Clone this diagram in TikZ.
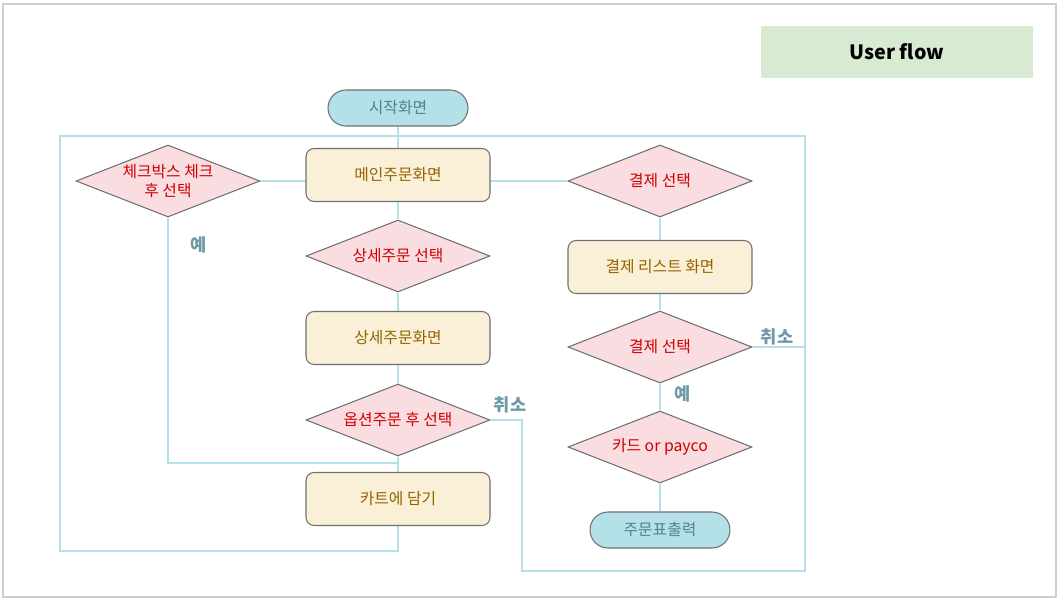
\documentclass[tikz,border=0pt]{standalone}
\usepackage{fontspec}
\setmainfont{Noto Sans CJK KR}
\usepackage{xcolor}
\usepackage{tikz}
\usetikzlibrary{shapes.geometric, backgrounds}
\definecolor{flowcyan}{HTML}{B6E0E7}
\definecolor{edgegray}{HTML}{707070}
\definecolor{framegray}{HTML}{CFCFCF}
\definecolor{screencream}{HTML}{FAF0D7}
\definecolor{screenbrown}{HTML}{946300}
\definecolor{choicepink}{HTML}{FADDE1}
\definecolor{choicered}{HTML}{D00000}
\definecolor{termblue}{HTML}{B4E1E8}
\definecolor{termteal}{HTML}{55808C}
\definecolor{answerteal}{HTML}{6D9AA6}
\definecolor{titlegreen}{HTML}{D9EAD3}

\begin{document}
\begin{tikzpicture}[x=0.02cm, y=-0.02cm, font=\fontsize{9}{10.5}\selectfont,
    screen/.style={rectangle, rounded corners=0.16cm, minimum width=3.68cm, minimum height=1.06cm,
      draw=edgegray, fill=screencream, text=screenbrown, line width=0.6pt},
    choice/.style={diamond, shape aspect=2.5, inner sep=0.5pt, minimum width=3.68cm, minimum height=1.44cm,
      align=center, draw=edgegray, fill=choicepink, text=choicered, line width=0.6pt},
    terminal/.style={rectangle, rounded corners=0.36cm, minimum width=2.8cm, minimum height=0.72cm,
      draw=edgegray, fill=termblue, text=termteal, line width=0.6pt},
    flow/.style={draw=flowcyan, line width=1.4pt},
    answer/.style={text=answerteal, font=\fontsize{10}{12}\selectfont\bfseries}]

    \useasboundingbox (0,0) rectangle (1059,599);
    \draw[framegray, line width=0.6pt] (3,4) rectangle (1056,597);

    \node (title) [fill=titlegreen, minimum width=5.44cm, minimum height=1.04cm,
      font=\fontsize{11.2}{13}\selectfont\bfseries] at (897,52) {User flow};

    % ordering column
    \node (start) [terminal] at (398,108) {시작화면};
    \node (main) [screen] at (398,175) {메인주문화면};
    \node (check) [choice] at (168,181) {체크박스 체크\\후 선택};
    \node (detsel) [choice] at (398,256) {상세주문 선택};
    \node (detail) [screen] at (398,338) {상세주문화면};
    \node (option) [choice] at (398,420) {옵션주문 후 선택};
    \node (cart) [screen] at (398,499) {카트에 담기};

    % payment column
    \node (pay) [choice] at (660,181) {결제 선택};
    \node (paylist) [screen] at (660,267) {결제 리스트 화면};
    \node (payagain) [choice] at (660,347) {결제 선택};
    \node (card) [choice] at (660,447) {카드 or payco};
    \node (print) [terminal] at (660,530) {주문표출력};

    % corners of the return loops
    \coordinate (loopTL) at (60,136);
    \coordinate (loopTR) at (805,136);
    \coordinate (loopBL) at (60,551);
    \coordinate (loopBR) at (805,571);
    \coordinate (cancelBL) at (522,571);
    \coordinate (join) at (398,463);

    \begin{scope}[on background layer]
      \draw[flow] (start) -- (main) -- (detsel) -- (detail) -- (option) -- (cart);
      \draw[flow] (check) -- (pay);
      \draw[flow] (check) |- (join);
      \draw[flow] (pay) -- (paylist) -- (payagain) -- (card) -- (print);
      \draw[flow] (payagain) -- (payagain -| loopTR);
      \draw[flow] (cart) |- (loopBL) -- (loopTL) -- (loopTR) -- (loopBR) -- (cancelBL) |- (option);
    \end{scope}

    \node (yesCheck) [answer] at (199,245) {예};
    \node (cancelOpt) [answer] at (510,405) {취소};
    \node (cancelPay) [answer] at (777,337) {취소};
    \node (yesPay) [answer] at (683,394) {예};
\end{tikzpicture}
\end{document}
